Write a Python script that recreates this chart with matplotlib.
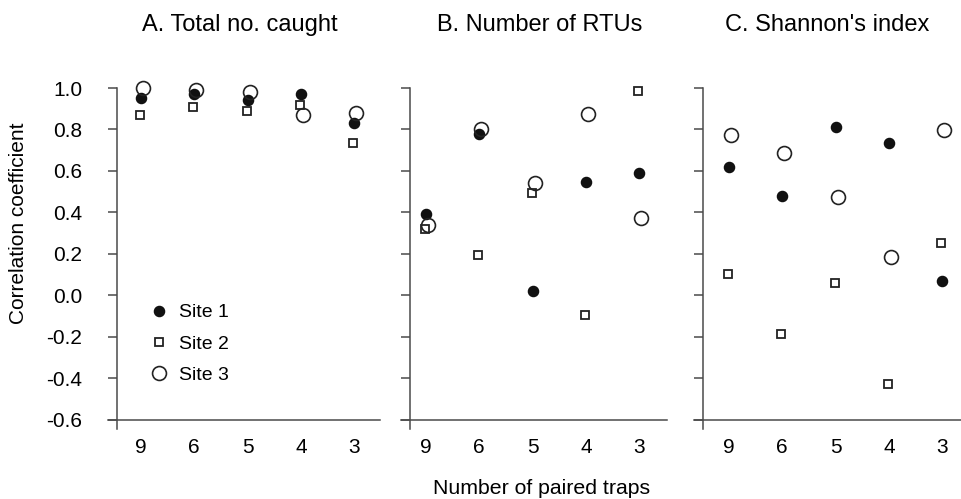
import numpy as np
import matplotlib.pyplot as plt

plt.rcParams['font.family'] = ['Liberation Sans', 'DejaVu Sans']

# paired traps (x categories)
traps = ['9', '6', '5', '4', '3']

# A. Total no. caught
a_site1 = [0.95, 0.97, 0.94, 0.97, 0.83]
a_site2 = [0.87, 0.91, 0.89, 0.92, 0.735]
a_site3 = [1.00, 0.99, 0.98, 0.87, 0.88]

# B. Number of RTUs
b_site1 = [0.39, 0.78, 0.02, 0.545, 0.59]
b_site2 = [0.32, 0.195, 0.495, -0.095, 0.985]
b_site3 = [0.34, 0.80, 0.54, 0.875, 0.375]

# C. Shannon's index
c_site1 = [0.62, 0.48, 0.81, 0.735, 0.07]
c_site2 = [0.105, -0.185, 0.06, -0.43, 0.25]
c_site3 = [0.775, 0.685, 0.475, 0.185, 0.795]

titles = ["A. Total no. caught", "B. Number of RTUs", "C. Shannon's index"]
panels = [(a_site1, a_site2, a_site3),
          (b_site1, b_site2, b_site3),
          (c_site1, c_site2, c_site3)]
yticks = [-0.6, -0.4, -0.2, 0.0, 0.2, 0.4, 0.6, 0.8, 1.0]

W, H = 961, 499
fig = plt.figure(figsize=(W / 100, H / 100), dpi=100)

# axes boxes in pixels: (left, right, spine_x, first category x, title centre)
ppu = 53.3
boxes = [(108, 380, 117, 141, 240), (401, 667, 410, 426, 540), (694, 961, 703, 729, 827)]
top_px, bot_px = 88, 429
ylo, yhi = -0.645, 1.0
spine_col = '#4a4a4a'
x = np.arange(len(traps))
offs = [0.0, -0.02, 0.04]

for i, (box, data, title) in enumerate(zip(boxes, panels, titles)):
    l, r, sx, x0, tc = box
    ax = fig.add_axes([l / W, (H - bot_px) / H, (r - l) / W, (bot_px - top_px) / H])
    ax.set_xlim((l - x0) / ppu, (r - x0) / ppu)
    ax.set_ylim(ylo, yhi)
    s1, s2, s3 = data
    ax.plot(x + offs[0], s1, 'o', ms=7.3, mfc='#111', mec='#111', clip_on=False, zorder=3)
    ax.plot(x + offs[1], s2, 's', ms=5.6, mfc='white', mec='#222', mew=1.3, clip_on=False, zorder=2)
    ax.plot(x + offs[2], s3, 'o', ms=10, mfc='none', mec='#222', mew=1.2, clip_on=False, zorder=4)

    for side in ['top', 'right']:
        ax.spines[side].set_visible(False)
    ax.spines['left'].set_position(('data', (sx - x0) / ppu))
    ax.spines['bottom'].set_position(('data', -0.6))
    for side in ['left', 'bottom']:
        ax.spines[side].set_color(spine_col)
        ax.spines[side].set_linewidth(1.1)
    ax.set_yticks(yticks)
    ax.tick_params(axis='y', direction='out', length=6.5, width=1.1, color=spine_col,
                   pad=18.5, labelsize=15)
    if i == 0:
        ax.set_yticklabels(['%.1f' % v for v in yticks])
    else:
        ax.set_yticklabels([])
    ax.set_xticks(x)
    ax.set_xticklabels(traps)
    ax.tick_params(axis='x', length=0, pad=13, labelsize=15)
    ax.patch.set_visible(False)

    fig.text(tc / W, (H - 25) / H, title, ha='center', va='center', fontsize=17)

    if i == 0:
        ax.legend(['Site 1', 'Site 2', 'Site 3'], loc='upper left',
                  bbox_to_anchor=((140 - l) / (r - l), (bot_px - 296) / (bot_px - top_px)),
                  frameon=False, fontsize=14, handletextpad=0.4, labelspacing=0.7,
                  borderaxespad=0, handlelength=1.2)

fig.text(19 / W, (H - 223) / H, 'Correlation coefficient', rotation=90,
         ha='center', va='center', fontsize=15)
fig.text(542 / W, (H - 488) / H, 'Number of paired traps', ha='center', va='center', fontsize=15.3)

fig.savefig('out.png', dpi=100)
